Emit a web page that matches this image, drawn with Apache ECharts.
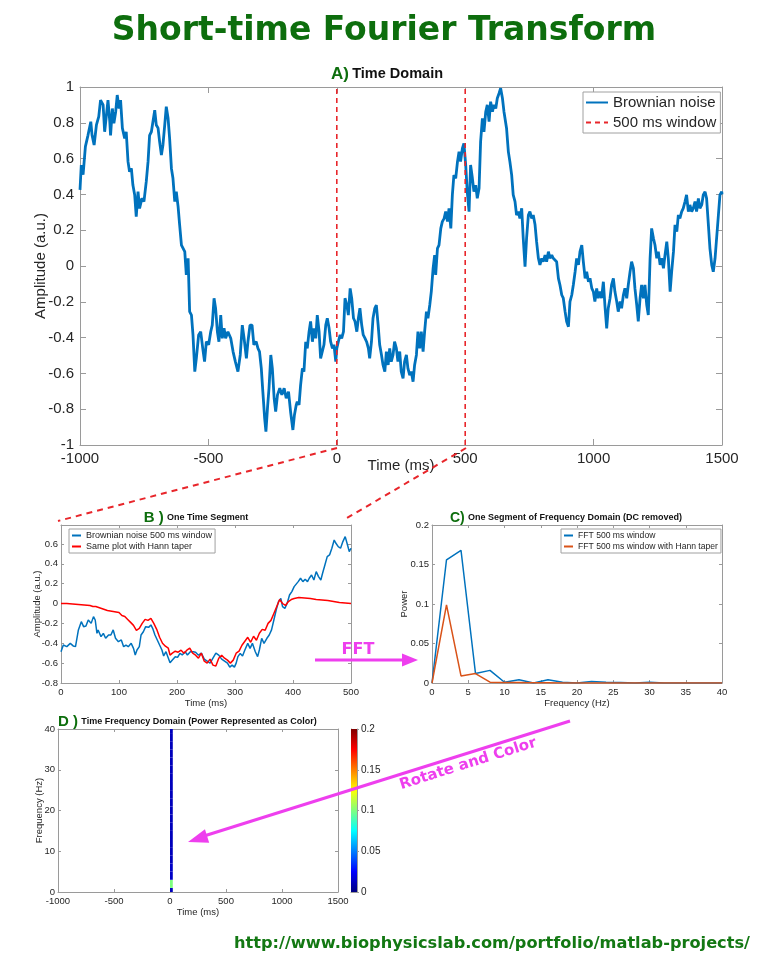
<!DOCTYPE html>
<html><head><meta charset="utf-8">
<script src="https://cdn.jsdelivr.net/npm/echarts@6/dist/echarts.min.js"></script>
<style>html,body{margin:0;padding:0;background:#fff}#c{width:768px;height:967px}</style>
</head><body><div id="c"></div><script>
// ---------- Panel A: Brownian noise (time domain) ----------
const timeA = [-1000,-995,-988,-979,-969,-958,-953,-945,-936,-927,-920,-910,-904,-897,-891,-884,-881,-874,-868,-861,-855,-848,-842,-835,-826,-820,-813,-807,-800,-794,-787,-781,-774,-768,-759,-751,-742,-735,-729,-722,-716,-709,-703,-696,-690,-683,-677,-670,-664,-657,-651,-644,-638,-631,-625,-618,-612,-605,-599,-592,-586,-579,-573,-566,-560,-553,-547,-538,-530,-522,-515,-508,-499,-491,-485,-478,-472,-465,-459,-452,-446,-439,-433,-424,-413,-404,-395,-385,-376,-368,-361,-352,-346,-338,-330,-323,-314,-307,-301,-294,-288,-281,-276,-270,-264,-257,-251,-244,-238,-231,-222,-214,-205,-197,-188,-180,-171,-165,-158,-154,-147,-141,-134,-128,-121,-115,-108,-102,-95,-89,-82,-76,-69,-63,-56,-50,-43,-37,-30,-24,-17,-11,-4,0,6,13,19,26,32,39,45,52,58,65,71,78,84,90,97,103,110,116,123,128,135,141,148,154,161,167,174,180,187,193,200,206,212,219,225,232,238,245,251,258,264,271,277,284,290,297,303,310,316,323,329,336,342,349,355,362,368,375,381,385,392,398,405,411,418,424,431,437,444,450,456,463,470,476,482,489,495,502,508,515,521,528,534,541,547,554,560,567,573,580,586,593,599,606,612,619,625,632,638,645,651,661,668,674,681,687,694,700,707,713,720,726,733,739,746,752,759,765,772,778,785,791,798,804,811,817,824,830,837,843,850,856,863,869,876,882,889,895,902,908,915,921,928,934,941,947,954,960,967,973,980,986,993,999,1005,1012,1018,1025,1031,1038,1044,1051,1057,1064,1070,1077,1083,1090,1096,1103,1109,1116,1122,1129,1135,1142,1148,1155,1161,1168,1174,1181,1187,1194,1200,1207,1213,1220,1226,1233,1239,1246,1252,1259,1265,1272,1278,1285,1291,1298,1304,1311,1317,1324,1330,1336,1343,1349,1356,1362,1369,1375,1382,1388,1395,1401,1408,1414,1421,1427,1434,1440,1447,1453,1460,1466,1473,1479,1486,1492,1499,1500];
const ampA = [0.425,0.564,0.51,0.667,0.73,0.806,0.73,0.676,0.788,0.834,0.927,0.9,0.75,0.844,0.927,0.806,0.73,0.88,0.797,0.862,0.955,0.88,0.927,0.77,0.713,0.75,0.583,0.527,0.545,0.452,0.397,0.276,0.415,0.322,0.378,0.36,0.471,0.583,0.73,0.75,0.806,0.87,0.788,0.77,0.695,0.62,0.676,0.788,0.89,0.825,0.713,0.545,0.49,0.36,0.415,0.332,0.23,0.117,0.127,0.08,-0.05,0.043,-0.255,-0.274,-0.385,-0.59,-0.516,-0.385,-0.367,-0.46,-0.534,-0.423,-0.44,-0.367,-0.33,-0.18,-0.236,-0.367,-0.423,-0.274,-0.404,-0.348,-0.404,-0.367,-0.404,-0.478,-0.534,-0.59,-0.497,-0.33,-0.404,-0.516,-0.423,-0.33,-0.33,-0.44,-0.423,-0.46,-0.478,-0.572,-0.702,-0.85,-0.925,-0.795,-0.683,-0.497,-0.572,-0.739,-0.814,-0.72,-0.683,-0.72,-0.683,-0.739,-0.702,-0.814,-0.916,-0.832,-0.776,-0.758,-0.776,-0.665,-0.572,-0.59,-0.423,-0.46,-0.367,-0.31,-0.423,-0.348,-0.404,-0.274,-0.367,-0.516,-0.525,-0.44,-0.33,-0.292,-0.348,-0.423,-0.46,-0.44,-0.534,-0.46,-0.423,-0.385,-0.404,-0.367,-0.18,-0.218,-0.274,-0.125,-0.18,-0.292,-0.31,-0.367,-0.292,-0.236,-0.33,-0.385,-0.404,-0.423,-0.46,-0.516,-0.423,-0.292,-0.236,-0.218,-0.33,-0.44,-0.497,-0.553,-0.59,-0.478,-0.553,-0.46,-0.534,-0.497,-0.423,-0.46,-0.534,-0.478,-0.59,-0.628,-0.534,-0.497,-0.572,-0.61,-0.59,-0.646,-0.553,-0.497,-0.367,-0.46,-0.367,-0.478,-0.367,-0.255,-0.292,-0.218,-0.143,-0.013,0.061,-0.05,0.099,0.117,0.21,0.248,0.266,0.304,0.248,0.322,0.21,0.397,0.508,0.49,0.583,0.639,0.583,0.657,0.685,0.564,0.415,0.304,0.564,0.49,0.415,0.452,0.378,0.434,0.695,0.825,0.75,0.862,0.9,0.806,0.918,0.862,0.9,0.88,0.937,0.965,0.993,0.937,0.862,0.77,0.639,0.583,0.508,0.397,0.36,0.285,0.304,0.266,0.322,0.155,-0.004,0.155,0.285,0.304,0.266,0.285,0.23,0.136,0.043,0.006,0.043,0.024,0.061,0.024,0.08,0.043,0.061,0.043,0.043,0.024,-0.069,-0.106,-0.162,-0.18,-0.255,-0.31,-0.339,-0.199,-0.162,-0.106,-0.032,0.043,0.006,0.08,0.117,0.024,-0.069,-0.032,-0.088,-0.069,-0.125,-0.143,-0.199,-0.125,-0.18,-0.143,-0.18,-0.088,-0.218,-0.348,-0.236,-0.18,-0.106,-0.069,-0.143,-0.199,-0.255,-0.199,-0.236,-0.162,-0.125,-0.18,-0.106,-0.032,0.024,-0.013,-0.125,-0.218,-0.31,-0.18,-0.106,-0.18,-0.106,-0.218,-0.274,0.043,0.21,0.155,0.117,0.043,0.08,0.006,0.043,-0.013,0.061,0.136,0.043,-0.143,-0.032,0.08,0.23,0.192,0.285,0.266,0.304,0.322,0.36,0.397,0.304,0.341,0.304,0.322,0.36,0.304,0.378,0.322,0.341,0.397,0.415,0.378,0.23,0.099,0.006,-0.032,0.043,0.155,0.285,0.397,0.415,0.4];
const windowEdges = [0, 500];
const ampRangeA = [-1, 1];

// ---------- Panel B: one 500 ms segment ----------
const timeB = [0,4,10,16,21,25,30,35,39,43,47,52,56,59,62,64,69,73,77,82,86,90,94,99,104,108,112,116,121,125,128,131,135,138,142,146,151,155,158,162,166,170,174,177,181,184,188,192,197,201,205,209,214,218,223,225,228,232,237,242,247,252,257,262,267,272,277,282,287,291,295,299,302,305,309,313,317,322,326,330,335,339,342,346,350,355,359,363,367,371,375,379,382,386,390,394,398,402,405,409,413,417,421,425,428,432,436,440,444,448,451,455,459,463,467,471,474,478,482,486,490,494,497,500];
const ampB = [-0.485,-0.418,-0.434,-0.401,-0.427,-0.434,-0.266,-0.183,-0.233,-0.226,-0.166,-0.2,-0.132,-0.166,-0.3,-0.266,-0.334,-0.3,-0.35,-0.317,-0.317,-0.266,-0.35,-0.384,-0.367,-0.434,-0.418,-0.434,-0.401,-0.451,-0.518,-0.468,-0.434,-0.317,-0.284,-0.233,-0.24,-0.216,-0.25,-0.317,-0.367,-0.418,-0.468,-0.528,-0.485,-0.502,-0.596,-0.569,-0.535,-0.542,-0.502,-0.518,-0.485,-0.518,-0.485,-0.468,-0.485,-0.49,-0.52,-0.5,-0.56,-0.58,-0.6,-0.55,-0.5,-0.52,-0.56,-0.58,-0.6,-0.64,-0.62,-0.64,-0.6,-0.535,-0.502,-0.528,-0.468,-0.401,-0.451,-0.401,-0.485,-0.535,-0.468,-0.35,-0.401,-0.35,-0.317,-0.266,-0.166,-0.065,0.019,0.052,-0.032,-0.049,0.002,0.086,0.12,0.17,0.153,0.22,0.254,0.22,0.244,0.22,0.254,0.287,0.237,0.321,0.271,0.237,0.304,0.388,0.472,0.489,0.556,0.639,0.606,0.572,0.556,0.623,0.673,0.589,0.522,0.556];
const timeHann = [0,10,20,30,40,50,55,60,70,80,90,100,105,110,115,120,125,130,135,140,145,150,155,160,165,170,175,180,185,188,192,197,202,207,212,217,222,227,232,237,242,247,252,257,262,267,272,277,282,287,292,297,302,307,312,317,322,327,332,337,342,347,352,357,362,367,372,377,382,387,392,397,402,410,420,430,440,450,460,470,480,490,500];
const ampHann = [0,0,-0.005,-0.01,-0.015,-0.02,-0.03,-0.03,-0.05,-0.07,-0.08,-0.09,-0.12,-0.13,-0.16,-0.19,-0.22,-0.27,-0.25,-0.2,-0.16,-0.17,-0.15,-0.2,-0.26,-0.34,-0.4,-0.43,-0.45,-0.52,-0.5,-0.48,-0.49,-0.47,-0.5,-0.47,-0.45,-0.5,-0.52,-0.55,-0.5,-0.58,-0.6,-0.56,-0.62,-0.63,-0.55,-0.52,-0.55,-0.57,-0.6,-0.57,-0.5,-0.48,-0.42,-0.38,-0.34,-0.39,-0.33,-0.37,-0.3,-0.26,-0.27,-0.2,-0.17,-0.1,-0.03,0.04,0,-0.02,0.02,0.04,0.05,0.06,0.055,0.05,0.04,0.035,0.03,0.02,0.01,0.005,0];

// ---------- Panel C: power spectrum of the segment ----------
const freqC = [0,2,4,6,8,10,12,14,16,18,20,22,24,26,28,30,32,34,36,38,40];
const powerFFT = [0,0.156,0.168,0.012,0.016,0.001,0.004,0,0.004,0.001,0,0.002,0.001,0.0005,0,0.001,0,0,0,0,0];
const powerHann = [0,0.099,0.009,0.012,0.001,0.0005,0.0005,0.0002,0.0003,0.0001,0,0,0,0,0,0,0,0,0,0,0];

const timeD = [0, 25];
const freqD = [0,2,4,6,8,10,12,14,16,18,20,22,24,26,28,30,32,34,36,38,40];
const powerD = [0.012,0.1,0.014,0.014,0.012,0.012,0.012,0.012,0.012,0.012,0.012,0.012,0.012,0.012,0.012,0.012,0.012,0.012,0.012,0.012,0.012];
const binHalfHz = 1;
const colorRange = [0, 0.2];

// ---------- styling ----------
const AX = '#9a9a9a', TX = '#262626', FONT = 'Liberation Sans';
const BLUE = '#0072bd', ORANGE = '#d95319', RED = '#ff0000', MAG = '#ee3fee', GREEN = '#0d6e0d';
const jet = ['#00007f','#0000ff','#007fff','#00ffff','#7fff7f','#ffff00','#ff7f00','#ff0000','#7f0000'];

function baseAxis(extra){
  return Object.assign({
    type:'value', splitLine:{show:false},
    axisLine:{show:true, onZero:false, lineStyle:{color:AX, width:1}},
    axisTick:{show:true, inside:true, length:4, lineStyle:{color:AX}},
  }, extra);
}
function lbl(fs, margin, fmt){
  return {fontSize:fs, color:TX, fontFamily:FONT, margin:margin, formatter: fmt || (v => String(v))};
}
function nameStyle(fs){ return {fontSize:fs, color:TX, fontFamily:FONT}; }

const xAxes = [], yAxes = [];
function addPanel(g, xr, yr, fs, tl, xname, xgap, xmargin, yname, ygap, ymargin, yfmt){
  const xi = xAxes.length, yi = yAxes.length;
  xAxes.push(baseAxis({gridIndex:g, min:xr[0], max:xr[1], interval:xr[2], position:'bottom',
    name:xname, nameLocation:'middle', nameGap:xgap, nameMoveOverlap:false, nameTextStyle:nameStyle(fs),
    axisTick:{show:true, inside:true, length:tl, lineStyle:{color:AX}}, axisLabel:lbl(fs, xmargin)}));
  xAxes.push(baseAxis({gridIndex:g, min:xr[0], max:xr[1], interval:xr[2], position:'top',
    axisTick:{show:true, inside:true, length:tl, lineStyle:{color:AX}}, axisLabel:{show:false}}));
  yAxes.push(baseAxis({gridIndex:g, min:yr[0], max:yr[1], interval:yr[2], position:'left',
    name:yname, nameLocation:'middle', nameGap:ygap, nameMoveOverlap:false, nameTextStyle:nameStyle(fs),
    axisTick:{show:true, inside:true, length:tl, lineStyle:{color:AX}}, axisLabel:lbl(fs, ymargin, yfmt)}));
  yAxes.push(baseAxis({gridIndex:g, min:yr[0], max:yr[1], interval:yr[2], position:'right',
    axisTick:{show:true, inside:true, length:tl, lineStyle:{color:AX}}, axisLabel:{show:false}}));
  return {x:xi, y:yi};
}

const grids = [
  {left:80, top:87, width:642, height:358},
  {left:61, top:525, width:290, height:158},
  {left:432, top:525, width:290, height:158},
  {left:58, top:729, width:280, height:163},
  {left:351, top:729, width:6, height:163}
];

const pA = addPanel(0, [-1000,1500,500], [-1,1,0.2], 15, 6, 'Time (ms)', 13, 6, 'Amplitude (a.u.)', 32, 6);
const pB = addPanel(1, [0,500,100], [-0.8,0.79,0.2], 9.5, 3, 'Time (ms)', 15, 4, 'Amplitude (a.u.)', 19, 3, v => (v > 0.7 ? '' : String(v)));
const pC = addPanel(2, [0,40,5], [0,0.2,0.05], 9.5, 3, 'Frequency (Hz)', 15, 4, 'Power', 23, 3);
const pD = addPanel(3, [-1000,1500,500], [0,40,10], 9.5, 3, 'Time (ms)', 15, 4, 'Frequency (Hz)', 14, 3);
// colorbar axes
const cbX = xAxes.length;
xAxes.push({type:'category', gridIndex:4, data:['cb'], boundaryGap:true, axisLine:{show:true, onZero:false, lineStyle:{color:AX}}, axisTick:{show:false}, axisLabel:{show:false}});
const cbY = yAxes.length;
yAxes.push(baseAxis({gridIndex:4, min:colorRange[0], max:colorRange[1], interval:0.05, position:'right',
  axisTick:{show:true, inside:false, length:2, lineStyle:{color:AX}}, axisLabel:lbl(10, 4)}));
yAxes.push(baseAxis({gridIndex:4, min:colorRange[0], max:colorRange[1], interval:0.05, position:'left',
  axisTick:{show:false}, axisLabel:{show:false}}));

const zip = (a, b) => a.map((v, i) => [v, b[i]]);
const lineS = (name, xi, yi, data, color, width, type) => ({
  type:'line', name, xAxisIndex:xi, yAxisIndex:yi, data, symbol:'none', showSymbol:false,
  lineStyle:{color, width, type: type || 'solid'}, itemStyle:{color}, animation:false, z:3
});

const dCells = freqD.map((f, i) => [timeD[0], timeD[1], Math.max(f - binHalfHz, 0), Math.min(f + binHalfHz, 40), powerD[i]]);

const series = [
  lineS('Brownian noise', pA.x, pA.y, zip(timeA, ampA), BLUE, 2.8),
  Object.assign(lineS('500 ms window', pA.x, pA.y, [[windowEdges[0], ampRangeA[0]], [windowEdges[0], ampRangeA[1]]], '#e8262b', 1.6, [5,4]), {z:4}),
  Object.assign(lineS('500 ms window', pA.x, pA.y, [[windowEdges[1], ampRangeA[0]], [windowEdges[1], ampRangeA[1]]], '#e8262b', 1.6, [5,4]), {z:4}),
  lineS('Brownian noise 500 ms window', pB.x, pB.y, zip(timeB, ampB), BLUE, 1.5),
  lineS('Same plot with Hann taper', pB.x, pB.y, zip(timeHann, ampHann), RED, 1.5),
  lineS('FFT 500 ms window', pC.x, pC.y, zip(freqC, powerFFT), BLUE, 1.5),
  lineS('FFT 500 ms window with Hann taper', pC.x, pC.y, zip(freqC, powerHann), ORANGE, 1.5),
  {
    type:'custom', xAxisIndex:pD.x, yAxisIndex:pD.y, data:dCells, encode:{x:[0,1], y:[2,3]}, animation:false,
    renderItem(params, api){
      const p0 = api.coord([api.value(0), api.value(3)]);
      const p1 = api.coord([api.value(1), api.value(2)]);
      return {type:'rect', shape:{x:p0[0], y:p0[1], width:p1[0]-p0[0], height:p1[1]-p0[1]},
        style:{fill: api.visual('color')}};
    }
  },
  {
    type:'bar', xAxisIndex:cbX, yAxisIndex:cbY, data:[colorRange[1]], barWidth:'100%', animation:false, silent:true,
    itemStyle:{color:{type:'linear', x:0, y:1, x2:0, y2:0,
      colorStops: jet.map((c, i) => ({offset: i/(jet.length-1), color: c}))}}
  }
];

const legendBase = (extra) => Object.assign({
  orient:'vertical', backgroundColor:'#fff', borderColor:'#a0a0a0', borderWidth:1, borderRadius:0,
  selectedMode:false, itemStyle:{opacity:0}
}, extra);

const legends = [
  legendBase({left:583, top:92, itemWidth:22, itemHeight:14, itemGap:5, padding:[3,4,3,2],
    data:['Brownian noise','500 ms window'], textStyle:{fontSize:15, color:TX, fontFamily:FONT}}),
  legendBase({left:69, top:529, itemWidth:9, itemHeight:9, itemGap:2, padding:[2,3,2,2],
    data:['Brownian noise 500 ms window','Same plot with Hann taper'], textStyle:{fontSize:9, color:TX, fontFamily:FONT}}),
  legendBase({left:561, top:529, itemWidth:9, itemHeight:9, itemGap:2, padding:[2,3,2,2],
    data:['FFT 500 ms window','FFT 500 ms window with Hann taper'], textStyle:{fontSize:8.6, color:TX, fontFamily:FONT}})
];

function panelTitle(x, y, align, tag, text, tagSize, textSize){
  return {type:'text', x, y, z:100, style:{
    text:'{g|' + tag + '} {k|' + text + '}', align, verticalAlign:'middle',
    rich:{g:{fontSize:tagSize, fontWeight:'bold', fill:GREEN, fontFamily:FONT},
          k:{fontSize:textSize, fontWeight:'bold', fill:'#111', fontFamily:FONT}}}};
}
function arrowHead(tip, dir, len, half){
  const n = Math.hypot(dir[0], dir[1]); const u = [dir[0]/n, dir[1]/n]; const p = [-u[1], u[0]];
  const b = [tip[0] - u[0]*len, tip[1] - u[1]*len];
  return {type:'polygon', z:100, shape:{points:[tip, [b[0]+p[0]*half, b[1]+p[1]*half], [b[0]-p[0]*half, b[1]-p[1]*half]]}, style:{fill:MAG}};
}

const graphic = [
  {type:'text', x:384, y:31, z:100, style:{text:'Short-time Fourier Transform', align:'center', verticalAlign:'middle',
    font:'bold 33px "DejaVu Sans"', fill:GREEN}},
  panelTitle(387, 74, 'center', 'A)', 'Time Domain', 17, 14.5),
  panelTitle(196, 518, 'center', 'B )', 'One Time Segment', 15, 9),
  panelTitle(566, 518, 'center', 'C)', 'One Segment of Frequency Domain (DC removed)', 14, 9),
  panelTitle(58, 722, 'left', 'D )', 'Time Frequency Domain (Power Represented as Color)', 15, 9),
  {type:'line', z:100, shape:{x1:337, y1:448, x2:58, y2:521}, style:{stroke:'#e8262b', lineWidth:2, lineDash:[6,5]}},
  {type:'line', z:100, shape:{x1:466, y1:448, x2:347, y2:518}, style:{stroke:'#e8262b', lineWidth:2, lineDash:[6,5]}},
  {type:'line', z:100, shape:{x1:315, y1:660, x2:404, y2:660}, style:{stroke:MAG, lineWidth:3}},
  arrowHead([418, 660], [1, 0], 16, 6.5),
  {type:'text', x:358, y:650, z:100, style:{text:'FFT', align:'center', verticalAlign:'middle', font:'bold 16px "DejaVu Sans"', fill:MAG}},
  {type:'line', z:100, shape:{x1:570, y1:721, x2:204, y2:836}, style:{stroke:MAG, lineWidth:3}},
  arrowHead([188, 842], [-382, 121], 20, 7),
  {type:'text', x:468, y:764, rotation:0.305, z:100, style:{text:'Rotate and Color', align:'center', verticalAlign:'middle',
    font:'bold 15px "DejaVu Sans"', fill:MAG}},
  {type:'text', x:750, y:944, z:100, style:{text:'http://www.biophysicslab.com/portfolio/matlab-projects/', align:'right', verticalAlign:'middle',
    font:'bold 16.2px "DejaVu Sans"', fill:'#137813'}}
];

const chart = echarts.init(document.getElementById('c'), null, {renderer:'canvas', width:768, height:967});
chart.setOption({
  animation:false,
  backgroundColor:'#fff',
  grid: grids,
  xAxis: xAxes,
  yAxis: yAxes,
  legend: legends,
  visualMap: [{type:'continuous', show:false, seriesIndex:7, dimension:4, min:colorRange[0], max:colorRange[1], inRange:{color:jet}}],
  series,
  graphic
});
</script></body></html>
